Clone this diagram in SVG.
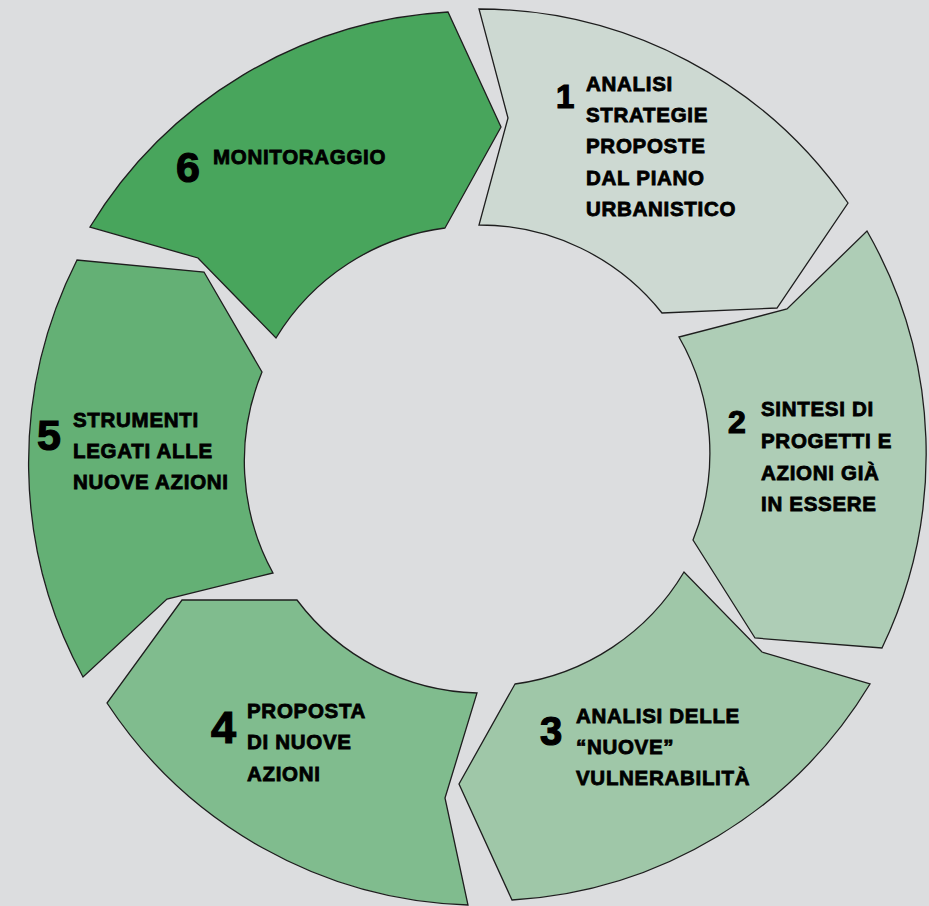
<svg xmlns="http://www.w3.org/2000/svg" width="929" height="906" viewBox="0 0 929 906">
<style>
.seg{stroke:#1e1e1e;stroke-width:1.3;stroke-linejoin:miter}
.t{font-family:"Liberation Sans",Arial,sans-serif;font-weight:bold;font-size:20.5px;letter-spacing:0.7px;fill:#000;stroke:#000;stroke-width:0.8}
.n{font-family:"Liberation Sans",Arial,sans-serif;font-weight:bold;fill:#000;stroke:#000;stroke-width:1.2}
</style>
<rect x="0" y="0" width="929" height="906" fill="#dcdddf"/>
<g id="node1">
<path class="seg" fill="#cdd9d2" d="M479,9 A449,449 0 0 1 848,203 L777,308 L662,313 A233,233 0 0 0 479,225 L508,118 Z"/>
<text class="n" x="556" y="108" font-size="33">1</text>
<text class="t"><tspan x="586" y="91">ANALISI</tspan><tspan x="586" y="122">STRATEGIE</tspan><tspan x="586" y="153">PROPOSTE</tspan><tspan x="586" y="185">DAL PIANO</tspan><tspan x="586" y="216">URBANISTICO</tspan></text>
</g>
<g id="node2">
<path class="seg" fill="#aecdb6" d="M867,231 A449,449 0 0 1 882,648 L755,638 L693,540 A233,233 0 0 0 679,337 L787,309 Z"/>
<text class="n" x="728" y="433" font-size="32">2</text>
<text class="t"><tspan x="761" y="416">SINTESI DI</tspan><tspan x="761" y="448">PROGETTI E</tspan><tspan x="761" y="480">AZIONI GIÀ</tspan><tspan x="761" y="511">IN ESSERE</tspan></text>
</g>
<g id="node3">
<path class="seg" fill="#9fc7a8" d="M870,684 A449,449 0 0 1 512,900 L459,784 L515,684 A233,233 0 0 0 684,572 L762,652 Z"/>
<text class="n" x="540" y="745" font-size="40">3</text>
<text class="t"><tspan x="576" y="723">ANALISI DELLE</tspan><tspan x="576" y="754">“NUOVE”</tspan><tspan x="576" y="785">VULNERABILITÀ</tspan></text>
</g>
<g id="node4">
<path class="seg" fill="#80bc8e" d="M468,905 A449,449 0 0 1 107,703 L182,600 L297,600 A233,233 0 0 0 477,693 L445,798 Z"/>
<text class="n" x="211" y="743" font-size="45">4</text>
<text class="t"><tspan x="247" y="718">PROPOSTA</tspan><tspan x="247" y="749">DI NUOVE</tspan><tspan x="247" y="781">AZIONI</tspan></text>
</g>
<g id="node5">
<path class="seg" fill="#64b075" d="M83,677 A449,449 0 0 1 77,260 L204,272 L262,372 A233,233 0 0 0 273,573 L167,599 Z"/>
<text class="n" x="37" y="450" font-size="43">5</text>
<text class="t"><tspan x="73" y="427">STRUMENTI</tspan><tspan x="73" y="458">LEGATI ALLE</tspan><tspan x="73" y="489">NUOVE AZIONI</tspan></text>
</g>
<g id="node6">
<path class="seg" fill="#48a55c" d="M90,227 A449,449 0 0 1 448,12 L501,127 L445,228 A233,233 0 0 0 276,338 L198,258 Z"/>
<text class="n" x="176" y="182" font-size="43">6</text>
<text class="t" x="213" y="164">MONITORAGGIO</text>
</g>
<g id="connectors"></g>
</svg>
